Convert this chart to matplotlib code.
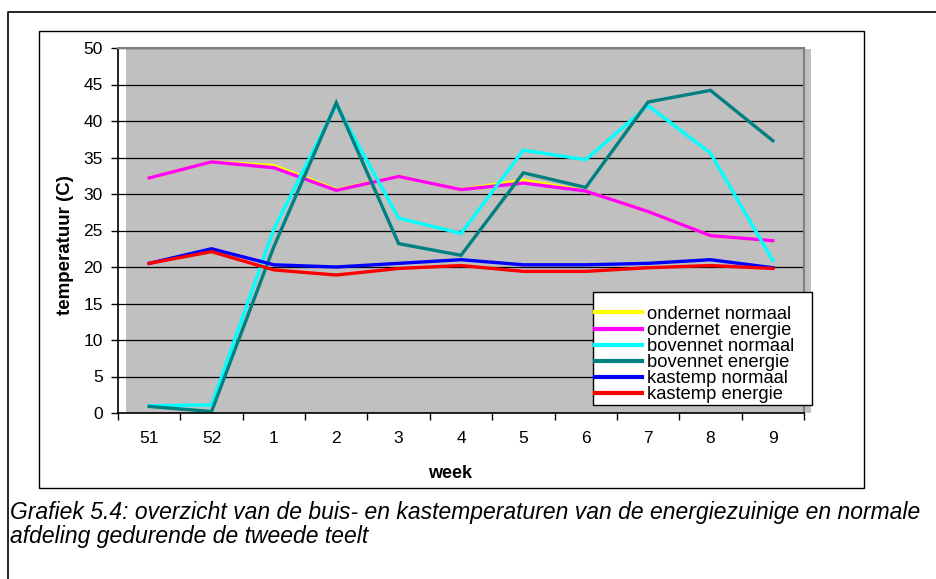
import matplotlib
matplotlib.use("Agg")
import matplotlib.pyplot as plt
from matplotlib.patches import Rectangle
from matplotlib.lines import Line2D

# ---- data ----
weeks = ["51", "52", "1", "2", "3", "4", "5", "6", "7", "8", "9"]

ondernet_normaal = [32.2, 34.4, 33.9, 30.6, 32.4, 30.6, 31.9, 30.4, 27.6, 24.3, 23.6]
ondernet_energie = [32.2, 34.4, 33.6, 30.5, 32.4, 30.6, 31.5, 30.4, 27.6, 24.3, 23.6]
bovennet_normaal = [1.0, 1.1, 25.2, 42.2, 26.7, 24.6, 36.0, 34.7, 42.1, 35.6, 20.9]
bovennet_energie = [0.9, 0.2, 22.8, 42.5, 23.2, 21.6, 32.9, 30.9, 42.6, 44.2, 37.3]
kastemp_normaal = [20.5, 22.5, 20.3, 20.0, 20.5, 21.0, 20.3, 20.3, 20.5, 21.0, 19.9]
kastemp_energie = [20.5, 22.1, 19.6, 18.9, 19.8, 20.2, 19.4, 19.4, 19.9, 20.2, 19.8]

labels = ["ondernet normaal", "ondernet  energie", "bovennet normaal",
          "bovennet energie", "kastemp normaal", "kastemp energie"]
series = [ondernet_normaal, ondernet_energie, bovennet_normaal,
          bovennet_energie, kastemp_normaal, kastemp_energie]
colors = ["#FFFF00", "#FF00FF", "#00FFFF", "#008080", "#0000FF", "#FF0000"]

caption = ("Grafiek 5.4: overzicht van de buis- en kastemperaturen van de energiezuinige en normale\n"
           "afdeling gedurende de tweede teelt")

plt.rcParams["font.family"] = ["Liberation Sans", "DejaVu Sans"]

W, H = 937, 579
fig = plt.figure(figsize=(W / 100, H / 100), dpi=100)


def fx(px):
    return px / W


def fy(py):
    return 1 - py / H


# outer page frame (top and left)
fig.add_artist(Line2D([fx(8), fx(8), fx(937)], [fy(579), fy(12), fy(12)],
                      color="black", lw=1.2, transform=fig.transFigure, zorder=-3))
# chart box
fig.add_artist(Rectangle((fx(39), fy(488)), fx(864) - fx(39), fy(31) - fy(488),
                         facecolor="white", edgecolor="black", lw=1.0,
                         transform=fig.transFigure, zorder=-2))
# grey plot background, offset to the right
fig.add_artist(Rectangle((fx(126), fy(413)), fx(811) - fx(126), fy(49) - fy(413),
                         facecolor="#C0C0C0", edgecolor="none",
                         transform=fig.transFigure, zorder=-1))

ax = fig.add_axes([fx(118), fy(413), fx(804) - fx(118), fy(48) - fy(413)])
ax.set_facecolor("none")

x = list(range(len(weeks)))
handles = []
for vals, lab, col in zip(series, labels, colors):
    h, = ax.plot(x, vals, color=col, lw=2.4, label=lab, solid_joinstyle="miter")
    handles.append(h)

ax.set_xlim(-0.5, len(weeks) - 0.5)
ax.set_ylim(0, 50)
ax.set_yticks(range(0, 51, 5))
ax.set_xticks(x)
ax.set_xticklabels(weeks)
ax.set_xticks([i - 0.5 for i in range(len(weeks) + 1)], minor=True)
ax.tick_params(axis="x", which="major", length=0, pad=13, labelsize=12.5)
ax.tick_params(axis="x", which="minor", length=5, width=1, direction="out")
ax.tick_params(axis="y", length=5, width=1, direction="out", pad=6, labelsize=12.5)

ax.yaxis.grid(True, color="black", lw=0.9)
ax.set_axisbelow(True)

for s in ["top", "right"]:
    ax.spines[s].set_color("#808080")
    ax.spines[s].set_linewidth(1.5)
ax.spines["left"].set_linewidth(1.2)
ax.spines["bottom"].set_linewidth(1.2)

# axis titles placed as in the original layout
fig.text(fx(450), fy(473), "week", fontsize=13, fontweight="bold",
         ha="center", va="center")
fig.text(fx(66), fy(245), "temperatuur (C)", fontsize=13.5, fontweight="bold",
         rotation=90, ha="center", va="center")

# legend: own frame, entries packed tightly
fig.add_artist(Rectangle((fx(593), fy(405)), fx(812) - fx(593), fy(292) - fy(405),
                         facecolor="white", edgecolor="black", lw=1.0,
                         transform=fig.transFigure, zorder=3))
leg = fig.legend(handles, labels, loc="upper left", bbox_to_anchor=(fx(593), fy(304)),
                 bbox_transform=fig.transFigure, frameon=False,
                 fontsize=13.2, handlelength=2.55, handletextpad=0.3,
                 labelspacing=-0.05, borderpad=0.1, borderaxespad=0)
leg.set_zorder(4)
for line in leg.get_lines():
    line.set_linewidth(3)

fig.text(fx(10), fy(501), caption, fontsize=16.5, style="italic",
         va="top", ha="left", linespacing=1.08)

fig.savefig("out.png", dpi=100)
